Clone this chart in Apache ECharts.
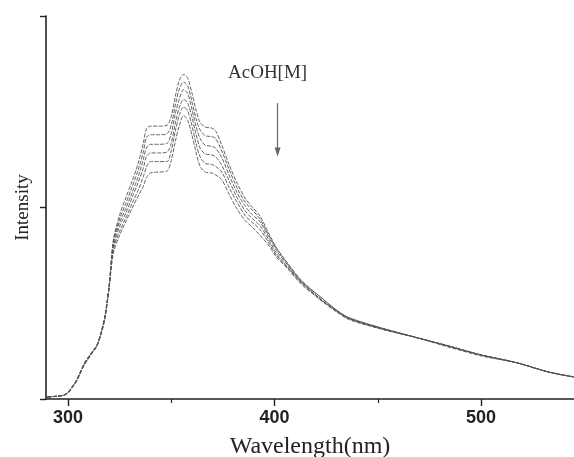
<!DOCTYPE html>
<html>
<head>
<meta charset="utf-8">
<script src="https://cdn.jsdelivr.net/npm/echarts@6/dist/echarts.min.js"></script>
<style>
html,body{margin:0;padding:0;background:#fff;overflow:hidden;}
#chart{width:574px;height:457px;}
</style>
</head>
<body>
<div id="chart"></div>
<script>
// Wavelength sample points (nm)
const wavelengths = [290,295,298,300,302,304,306,308,310,312,314,316,318,320,
  322,325,328,331,334,336.5,338,340,344,348,
  350,352,354,356,358,360,362,364,366.5,369.5,
  371.5,374.5,378,382,386,389,393,397,401,406,
  413,422,430,436,452,469,485,500,517,533,545];

// Intensity (a.u.) for increasing AcOH concentration (top to bottom)
const curve1 = [2,3,4,7,13,19,28,38,44,50,56,69,88,119,
  166,192,210,227,246,267,282,285,285,286,
  295,316,333,339,335,320,302,289,284,283,
  280,265,245,225,209,201,191,174,158,143,
  124,107,93,85,74,64,55,46,38,28,23];
const curve2 = [2,3,4,7,12,19,28,37,44,50,56,69,87,119,
  164,188,204,221,239,258,273,276,276,277,
  286,307,324,331,327,311,293,281,275,274,
  272,259,240,220,205,198,188,172,157,142,
  123,107,93,85,74,64,55,46,38,28,23];
const curve3 = [2,3,4,7,12,18,28,37,43,50,56,68,87,118,
  162,184,199,215,232,250,262,266,266,267,
  277,298,314,323,319,303,285,272,265,264,
  262,252,234,215,201,193,185,170,155,141,
  123,105,92,84,74,64,55,46,38,28,23];
const curve4 = [2,3,4,7,12,18,27,36,43,49,55,68,86,118,
  159,180,194,210,226,241,253,257,257,258,
  267,288,305,313,309,295,277,262,256,255,
  253,244,228,210,196,189,181,167,152,139,
  122,105,92,84,73,64,55,46,38,28,23];
const curve5 = [2,3,4,6,12,18,27,36,43,49,55,68,86,117,
  156,175,189,204,218,232,242,248,248,248,
  259,280,297,305,301,286,267,253,246,245,
  243,237,221,205,191,185,177,164,150,138,
  121,104,92,84,73,64,54,46,38,28,23];
const curve6 = [2,3,4,6,12,18,27,36,42,49,55,67,85,117,
  152,171,185,199,212,222,231,236,237,238,
  249,269,286,296,291,276,258,243,237,236,
  234,229,214,198,186,180,171,161,148,137,
  120,104,91,83,73,64,54,45,38,28,23];

const curves = [curve1, curve2, curve3, curve4, curve5, curve6];

// Axis ticks
const xMajorTicks = [300, 400, 500];
const xMinorTicks = [350, 450];
const xRange = [289.4, 545];
const yRange = [0, 400];
const yInterval = 200;

// Annotation (arrow) in data units
const arrowX = 401.5;
const arrowFrom = 309;
const arrowTo = 258;

const chart = echarts.init(document.getElementById('chart'), null, {renderer: 'canvas', width: 574, height: 457});

const series = curves.map((vals, i) => ({
  type: 'line',
  data: wavelengths.map((w, j) => [w, vals[j]]),
  showSymbol: false,
  smooth: 0.3,
  lineStyle: {color: '#555', width: 0.9, type: [4, 1.5]},
  silent: true,
  animation: false,
  z: 2
}));

series[0].markLine = {
  silent: true,
  symbol: ['none', 'triangle'],
  symbolSize: [6, 9],
  label: {show: false},
  lineStyle: {color: '#666', width: 1.2, type: 'solid'},
  data: [[{coord: [arrowX, arrowFrom]}, {coord: [arrowX, arrowTo]}]],
  animation: false
};

const option = {
  animation: false,
  backgroundColor: '#fff',
  grid: {left: 46, right: 0, top: 16, bottom: 58, containLabel: false, outerBoundsMode: 'none'},
  xAxis: [{
    type: 'value',
    min: xRange[0], max: xRange[1],
    name: 'Wavelength(nm)',
    nameLocation: 'middle',
    nameGap: 36,
    nameTextStyle: {fontFamily: 'Liberation Serif', fontSize: 24, color: '#222'},
    axisLine: {show: true, onZero: false, lineStyle: {color: '#222', width: 1.6}},
    axisTick: {show: true, inside: false, length: 7, customValues: xMajorTicks, lineStyle: {color: '#222', width: 1.4}},
    axisLabel: {show: true, customValues: xMajorTicks, margin: 10, fontFamily: 'Liberation Sans', fontWeight: 'bold', fontSize: 18, color: '#222'},
    splitLine: {show: false}
  }, {
    type: 'value',
    min: xRange[0], max: xRange[1],
    position: 'bottom',
    axisLine: {show: false},
    axisTick: {show: true, inside: false, length: 4, customValues: xMinorTicks, lineStyle: {color: '#222', width: 1.2}},
    axisLabel: {show: false},
    splitLine: {show: false}
  }],
  yAxis: {
    type: 'value',
    min: yRange[0], max: yRange[1], interval: yInterval,
    name: 'Intensity',
    nameLocation: 'middle',
    nameGap: 13,
    nameRotate: 90,
    nameTextStyle: {fontFamily: 'Liberation Serif', fontSize: 19, color: '#222'},
    axisLine: {show: true, onZero: false, lineStyle: {color: '#222', width: 1.6}},
    axisTick: {show: true, inside: false, length: 6, lineStyle: {color: '#222', width: 1.4}},
    axisLabel: {show: false},
    splitLine: {show: false}
  },
  graphic: [{
    type: 'text',
    left: 228, top: 64,
    style: {text: 'AcOH[M]', fontFamily: 'Liberation Serif', fontSize: 19, fill: '#333'}
  }],
  series: series
};

chart.setOption(option);
</script>
</body>
</html>
